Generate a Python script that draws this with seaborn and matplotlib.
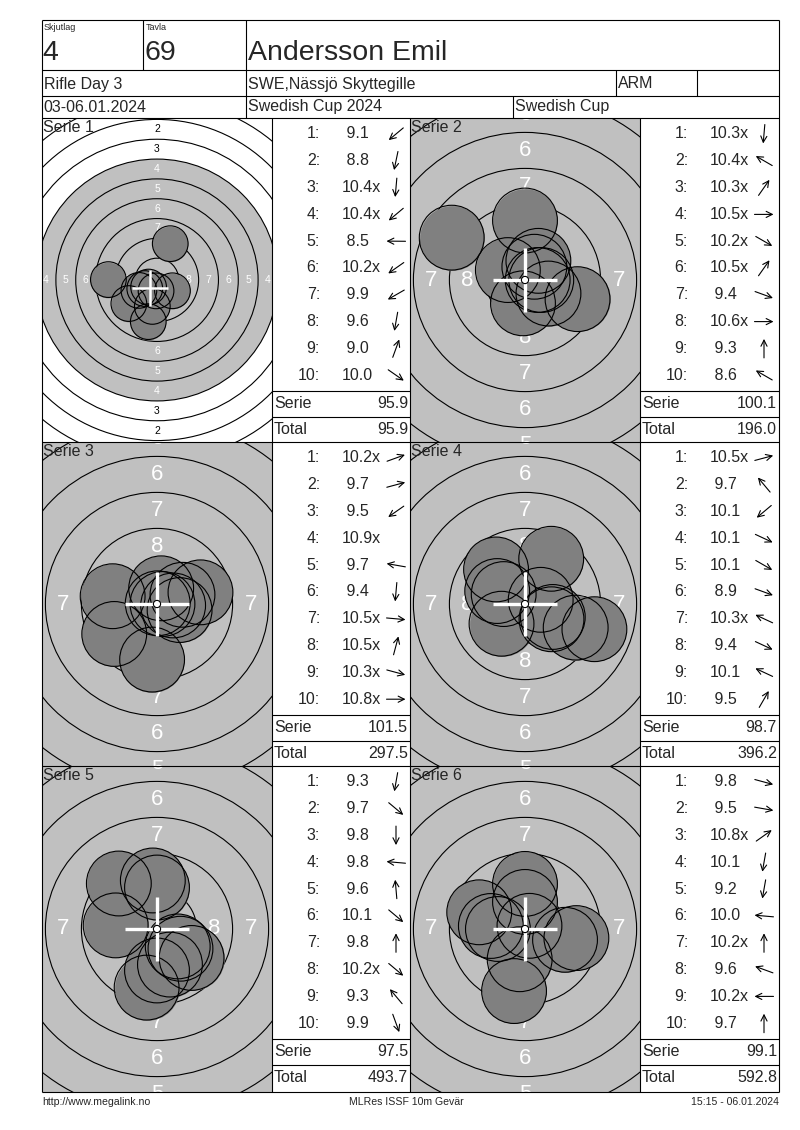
import numpy as np
import pandas as pd
import matplotlib
matplotlib.use("Agg")
import matplotlib.pyplot as plt
import seaborn as sns
from matplotlib.patches import Circle
from matplotlib import font_manager

# header texts
SKJUTLAG = "4"
TAVLA = "69"
SHOOTER = "Andersson Emil"
EVENT = "Rifle Day 3"
CLUB = "SWE,Nässjö Skyttegille"
KLASS = "ARM"
DATES = "03-06.01.2024"
COMPETITION = "Swedish Cup 2024"
CUP = "Swedish Cup"
FOOTER_LEFT = "http://www.megalink.no"
FOOTER_MID = "MLRes ISSF 10m Gevär"
FOOTER_RIGHT = "15:15 - 06.01.2024"

# shot scores per serie
scores_1 = [9.1, 8.8, 10.4, 10.4, 8.5, 10.2, 9.9, 9.6, 9.0, 10.0]
scores_2 = [10.3, 10.4, 10.3, 10.5, 10.2, 10.5, 9.4, 10.6, 9.3, 8.6]
scores_3 = [10.2, 9.7, 9.5, 10.9, 9.7, 9.4, 10.5, 10.5, 10.3, 10.8]
scores_4 = [10.5, 9.7, 10.1, 10.1, 10.1, 8.9, 10.3, 9.4, 10.1, 9.5]
scores_5 = [9.3, 9.7, 9.8, 9.8, 9.6, 10.1, 9.8, 10.2, 9.3, 9.9]
scores_6 = [9.8, 9.5, 10.8, 10.1, 9.2, 10.0, 10.2, 9.6, 10.2, 9.7]

# inner ten ("x") flags
inner_1 = [0, 0, 1, 1, 0, 1, 0, 0, 0, 0]
inner_2 = [1, 1, 1, 1, 1, 1, 0, 1, 0, 0]
inner_3 = [1, 0, 0, 1, 0, 0, 1, 1, 1, 1]
inner_4 = [1, 0, 0, 0, 0, 0, 1, 0, 0, 0]
inner_5 = [0, 0, 0, 0, 0, 0, 0, 1, 0, 0]
inner_6 = [0, 0, 1, 0, 0, 0, 1, 0, 1, 0]

# shot positions on the target (mm from centre, y up)
x_1 = [-3.55, -1.10, -0.12, -1.06, -6.13, -1.54, -2.28, -0.59, 1.67, 1.95]
y_1 = [-2.97, -5.25, -1.37, -0.89, 0.05, -1.08, -1.31, -3.33, 4.58, -1.36]
x_2 = [-0.14, -1.19, 0.93, 1.13, 1.63, 0.65, 3.65, 0.88, 0.00, -5.09]
y_2 = [-1.62, 0.69, 1.33, 0.00, -0.94, 0.92, -1.33, 0.00, 4.13, 2.94]
x_3 = [1.77, 3.02, -2.97, 0.05, -3.08, -0.34, 1.12, 0.29, 1.57, 0.38]
y_3 = [0.64, 0.81, -2.08, 0.05, 0.54, -3.86, -0.10, 1.09, -0.42, 0.00]
x_4 = [1.09, -2.01, -1.63, 1.93, 1.84, 4.82, -1.48, 3.52, -1.93, 1.82]
y_4 = [0.29, 2.40, -1.37, -0.90, -1.06, -1.75, 0.69, -1.64, 0.90, 3.14]
x_5 = [-0.72, 2.40, 0.00, -2.87, -0.29, 1.63, 0.00, 1.44, -2.65, 0.90]
y_5 = [-4.07, -2.01, -2.88, 0.25, 3.37, -1.37, 2.88, -1.21, 3.16, -2.47]
x_6 = [2.78, 3.57, 0.31, -0.37, -0.76, -2.37, 0.00, -3.18, -1.88, 0.00]
y_6 = [-0.75, -0.63, 0.22, -2.10, -4.31, 0.21, 1.88, 1.16, 0.00, 3.13]

# crosshair position per serie (mm)
cross_x = [-0.9, 0.0, 0.0, 0.0, 0.0, 0.0]
cross_y = [-1.0, 0.0, 0.0, 0.0, 0.0, 0.0]

SCORES = [scores_1, scores_2, scores_3, scores_4, scores_5, scores_6]
INNER = [inner_1, inner_2, inner_3, inner_4, inner_5, inner_6]
SHOTS_X = [x_1, x_2, x_3, x_4, x_5, x_6]
SHOTS_Y = [y_1, y_2, y_3, y_4, y_5, y_6]

# layout (pixels)
W, H, DPI = 800, 1130, 100
LEFT, RIGHT, TOP, BOTTOM = 42, 779, 20, 1092
ROWS = [(118, 442), (442, 766), (766, 1092)]
COLS = [(42, 272, 410), (410, 640, 779)]
PX_PER_MM = [7.93, 14.4, 14.4, 14.4, 14.4, 14.4]
GREY = "#c0c0c0"
SHOT = "#808080"
PELLET_R = 2.25
FS = 11.5

sns.set_theme(style="white")
plt.rcParams["font.family"] = ["Liberation Sans", "DejaVu Sans"]

names = {f.name for f in font_manager.fontManager.ttflist}
if "Liberation Sans Narrow" in names:
    foot_font, foot_size = ["Liberation Sans Narrow", "DejaVu Sans"], 9
else:
    foot_font, foot_size = ["Liberation Sans", "DejaVu Sans"], 7.6

fig = plt.figure(figsize=(W / DPI, H / DPI), dpi=DPI)
fig.patch.set_facecolor("white")


def px_axes(x0, y0, x1, y1):
    return fig.add_axes([x0 / W, 1 - y1 / H, (x1 - x0) / W, (y1 - y0) / H])


# targets
for i in range(6):
    r0, r1 = ROWS[i // 2]
    c0, c1, c2 = COLS[i % 2]
    sc = PX_PER_MM[i]
    zoomed = i > 0
    ax = px_axes(c0, r0, c1, r1)
    hw = (c1 - c0) / sc / 2
    hh = (r1 - r0) / sc / 2

    ax.add_patch(Circle((0, 0), 15.25, fc=GREY, ec="none", zorder=0))
    for k in range(1, 10):
        ax.add_patch(Circle((0, 0), 22.75 - 2.5 * (k - 1), fc="none", ec="black",
                            lw=0.8, zorder=1))
    lab_size = 16 if zoomed else 7.5
    margin = 0.5 if zoomed else 0.4
    for k in range(1, 9):
        rr = 24 - 2.5 * k
        col = "white" if rr < 15.25 else "black"
        for dx, dy in [(0, 1), (0, -1), (1, 0), (-1, 0)]:
            if abs(dx * rr) > hw + margin or abs(dy * rr) > hh + margin:
                continue
            ax.text(dx * rr, dy * rr, str(k), color=col, fontsize=lab_size,
                    ha="center", va="center", clip_on=True, zorder=2)

    df = pd.DataFrame({"x": SHOTS_X[i], "y": SHOTS_Y[i]})
    s = (2 * PELLET_R * sc * 72 / DPI) ** 2
    sns.scatterplot(data=df, x="x", y="y", ax=ax, s=s, color=SHOT, linewidth=0,
                    zorder=3, legend=False)
    sns.scatterplot(data=df, x="x", y="y", ax=ax, s=s, color="none",
                    edgecolor="black", linewidth=0.8, zorder=4, legend=False)

    mx, my = cross_x[i], cross_y[i]
    lw = 2.4 if zoomed else 1.8
    ax.plot([mx - PELLET_R, mx + PELLET_R], [my, my], color="white", lw=lw, zorder=5,
            solid_capstyle="butt")
    ax.plot([mx, mx], [my - PELLET_R, my + PELLET_R], color="white", lw=lw, zorder=5,
            solid_capstyle="butt")
    if zoomed:
        ax.add_patch(Circle((0, 0), 0.25, fc="white", ec="black", lw=0.8, zorder=6))

    ax.set_xlim(-hw, hw)
    ax.set_ylim(-hh, hh)
    ax.set_facecolor("white")
    ax.axis("off")

# overlay for frame, tables and texts
ov = fig.add_axes([0, 0, 1, 1])
ov.set_xlim(0, W)
ov.set_ylim(H, 0)
ov.axis("off")
ov.patch.set_alpha(0)


def line(x0, y0, x1, y1):
    ov.plot([x0, x1], [y0, y1], color="black", lw=0.8, solid_capstyle="butt")


line(LEFT, TOP, RIGHT, TOP)
line(LEFT, BOTTOM, RIGHT, BOTTOM)
line(LEFT, TOP, LEFT, BOTTOM)
line(RIGHT, TOP, RIGHT, BOTTOM)
for yy in [70, 96, 118, 442, 766]:
    line(LEFT, yy, RIGHT, yy)
line(143, TOP, 143, 70)
line(246, TOP, 246, 118)
line(616, 70, 616, 96)
line(697, 70, 697, 96)
line(513, 96, 513, 118)
for xx in [272, 410, 640]:
    line(xx, 118, xx, BOTTOM)

# header texts
ov.text(44, 27, "Skjutlag", fontsize=6.5, ha="left", va="center")
ov.text(146, 27, "Tavla", fontsize=6.5, ha="left", va="center")
ov.text(42, 53, SKJUTLAG, fontsize=20.5, ha="left", va="center")
ov.text(145, 53, TAVLA, fontsize=20.5, ha="left", va="center")
ov.text(248, 53, SHOOTER, fontsize=20.5, ha="left", va="center")
ov.text(44, 84, EVENT, fontsize=FS, ha="left", va="center")
ov.text(248, 84, CLUB, fontsize=FS, ha="left", va="center")
ov.text(618, 84, KLASS, fontsize=FS, ha="left", va="center")
ov.text(43, 107, DATES, fontsize=FS, ha="left", va="center")
ov.text(248, 107, COMPETITION, fontsize=FS, ha="left", va="center")
ov.text(515, 107, CUP, fontsize=FS, ha="left", va="center")

# score tables
totals = np.cumsum([np.sum(sc_) for sc_ in SCORES])
for i in range(6):
    r0, r1 = ROWS[i // 2]
    c0, c1, c2 = COLS[i % 2]
    ov.text(c0 + 1, r0 + 2, f"Serie {i + 1}", fontsize=FS, ha="left", va="top")
    for j, (v, inn) in enumerate(zip(SCORES[i], INNER[i])):
        yy = r0 + 16 + j * 26.8
        ov.text(c1 + 48, yy, f"{j + 1}:", fontsize=FS, ha="right", va="center")
        txt = f"{v:4.1f}" + ("x" if inn else "")
        ov.text(c1 + 70, yy, txt, fontsize=FS, ha="left", va="center")
        sx, sy = SHOTS_X[i][j], SHOTS_Y[i][j]
        if np.hypot(sx, sy) > 0.2:
            a = np.arctan2(sy, sx)
            cx, L = c1 + 124, 9.5
            ov.annotate("", xy=(cx + L * np.cos(a), yy - L * np.sin(a)),
                        xytext=(cx - L * np.cos(a), yy + L * np.sin(a)),
                        arrowprops=dict(arrowstyle="->", lw=0.8, color="black",
                                        shrinkA=0, shrinkB=0, mutation_scale=11))
    y_serie = r0 + 273
    y_total = r0 + 299
    line(c1, y_serie, c2, y_serie)
    line(c1, y_total, c2, y_total)
    ov.text(c1 + 2, y_serie + 13, "Serie", fontsize=FS, ha="left", va="center")
    ov.text(c2 - 2, y_serie + 13, f"{np.sum(SCORES[i]):.1f}", fontsize=FS,
            ha="right", va="center")
    ov.text(c1 + 2, y_total + 13, "Total", fontsize=FS, ha="left", va="center")
    ov.text(c2 - 2, y_total + 13, f"{totals[i]:.1f}", fontsize=FS,
            ha="right", va="center")

# footer
ov.text(42, 1102, FOOTER_LEFT, fontsize=foot_size, family=foot_font, ha="left", va="center")
ov.text(406, 1102, FOOTER_MID, fontsize=foot_size, family=foot_font, ha="center", va="center")
ov.text(779, 1102, FOOTER_RIGHT, fontsize=foot_size, family=foot_font, ha="right", va="center")

fig.savefig("out.png", dpi=DPI, facecolor="white")
